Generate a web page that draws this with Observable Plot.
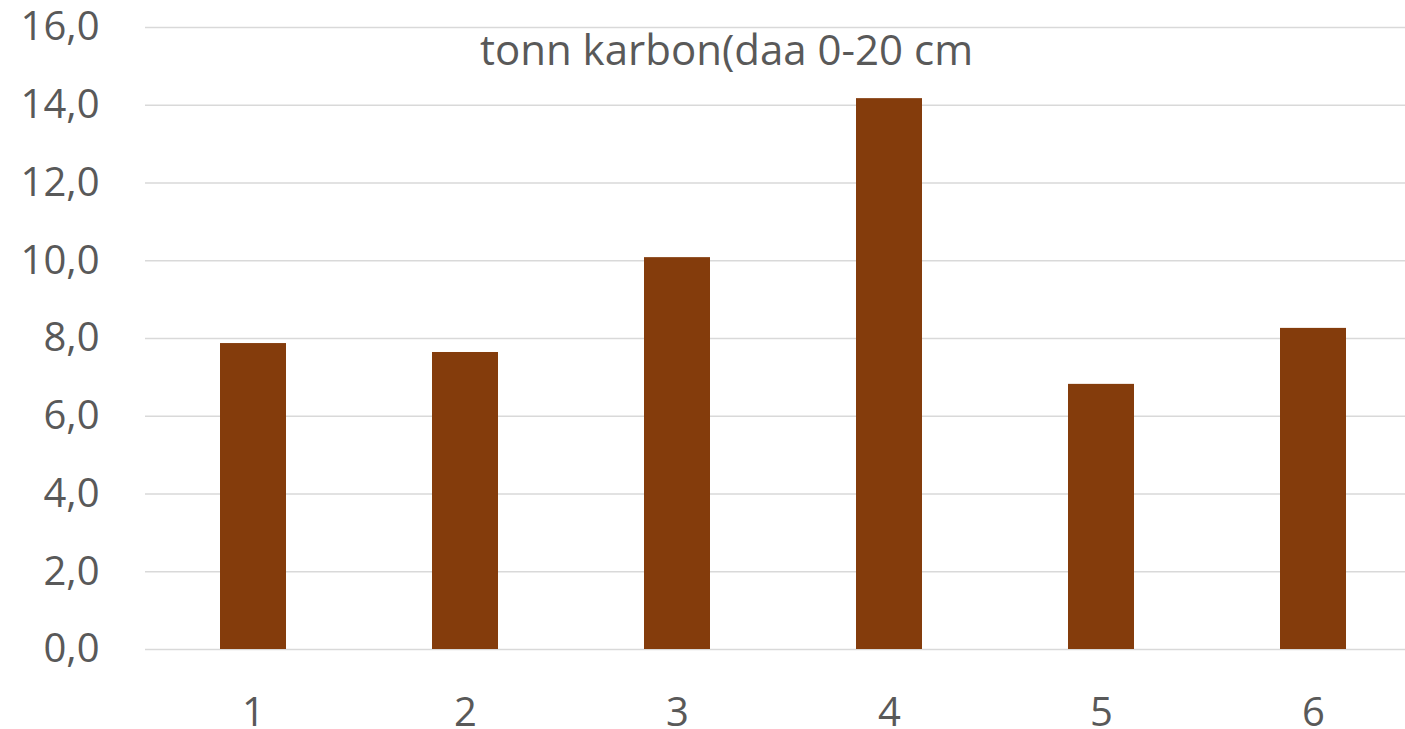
<!DOCTYPE html>
<html>
<head>
<meta charset="utf-8">
<script src="https://cdn.jsdelivr.net/npm/d3@7"></script>
<script src="https://cdn.jsdelivr.net/npm/@observablehq/plot@0.6"></script>
<style>
  html, body { margin: 0; padding: 0; background: #fff; }
  #chart { width: 1405px; height: 729px; overflow: hidden; }
</style>
</head>
<body>
<div id="chart"></div>
<script>
const categories = ["1", "2", "3", "4", "5", "6"];
const values = [7.87, 7.64, 10.08, 14.17, 6.82, 8.26];
const yTicks = [0, 2, 4, 6, 8, 10, 12, 14, 16];
const title = "tonn karbon(daa 0-20 cm";

const data = categories.map((c, i) => ({ cat: c, v: values[i] }));

const chart = Plot.plot({
  width: 1405,
  height: 729,
  marginTop: 27,
  marginBottom: 80,
  marginLeft: 145,
  marginRight: 0,
  style: { fontFamily: "'Open Sans', sans-serif", fontSize: "40px", color: "#595959", background: "#fff", overflow: "visible" },
  x: { domain: categories, range: [145, 1420], paddingInner: 0.69, paddingOuter: 0.345, label: null },
  y: { domain: [0, 16], label: null },
  marks: [
    Plot.ruleY(yTicks, { stroke: "#d9d9d9", strokeWidth: 1.5 }),
    Plot.barY(data, { x: "cat", y: "v", fill: "#843c0c" }),
    Plot.axisY({ ticks: yTicks, tickSize: 0, tickPadding: 46, tickFormat: d => d.toFixed(1).replace(".", ","), fill: "#595959", label: null }),
    Plot.axisX({ tickSize: 0, tickPadding: 48, fill: "#595959", label: null }),
    Plot.text([title], { frameAnchor: "top", dx: -49, dy: 8, fontSize: 42, fill: "#595959", fontFamily: "'Open Sans', sans-serif" })
  ]
});
document.getElementById("chart").appendChild(chart);
</script>
</body>
</html>
